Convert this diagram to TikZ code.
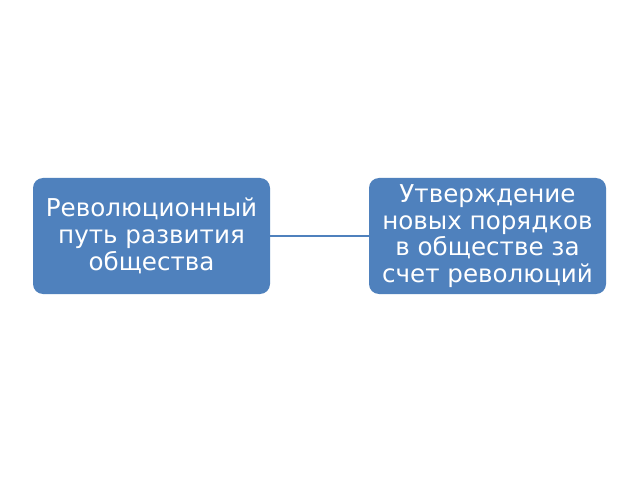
\documentclass[tikz,border=0pt]{standalone}
\usepackage{fontspec}
\setmainfont{DejaVu Sans}
\definecolor{boxblue}{HTML}{4F81BD}
\begin{document}
\begin{tikzpicture}[x=1pt,y=1pt,
  box/.style={draw=none, fill=boxblue, rounded corners=10pt, minimum width=237pt, minimum height=116pt,
    text=white, align=center, font=\fontsize{24.6}{26.7}\selectfont, inner sep=0pt},
  link/.style={draw=boxblue, line width=1.8pt}]
\useasboundingbox (0,0) rectangle (640,480);
\fill[white] (0,0) rectangle (640,480);
\node[box] (a) at (151.5,244) {Революционный\\путь развития\\общества};
\node[box] (b) at (487.5,244) {Утверждение\\новых порядков\\в обществе за\\счет революций};
\draw[link] (a.east) -- (b.west);
\end{tikzpicture}
\end{document}
